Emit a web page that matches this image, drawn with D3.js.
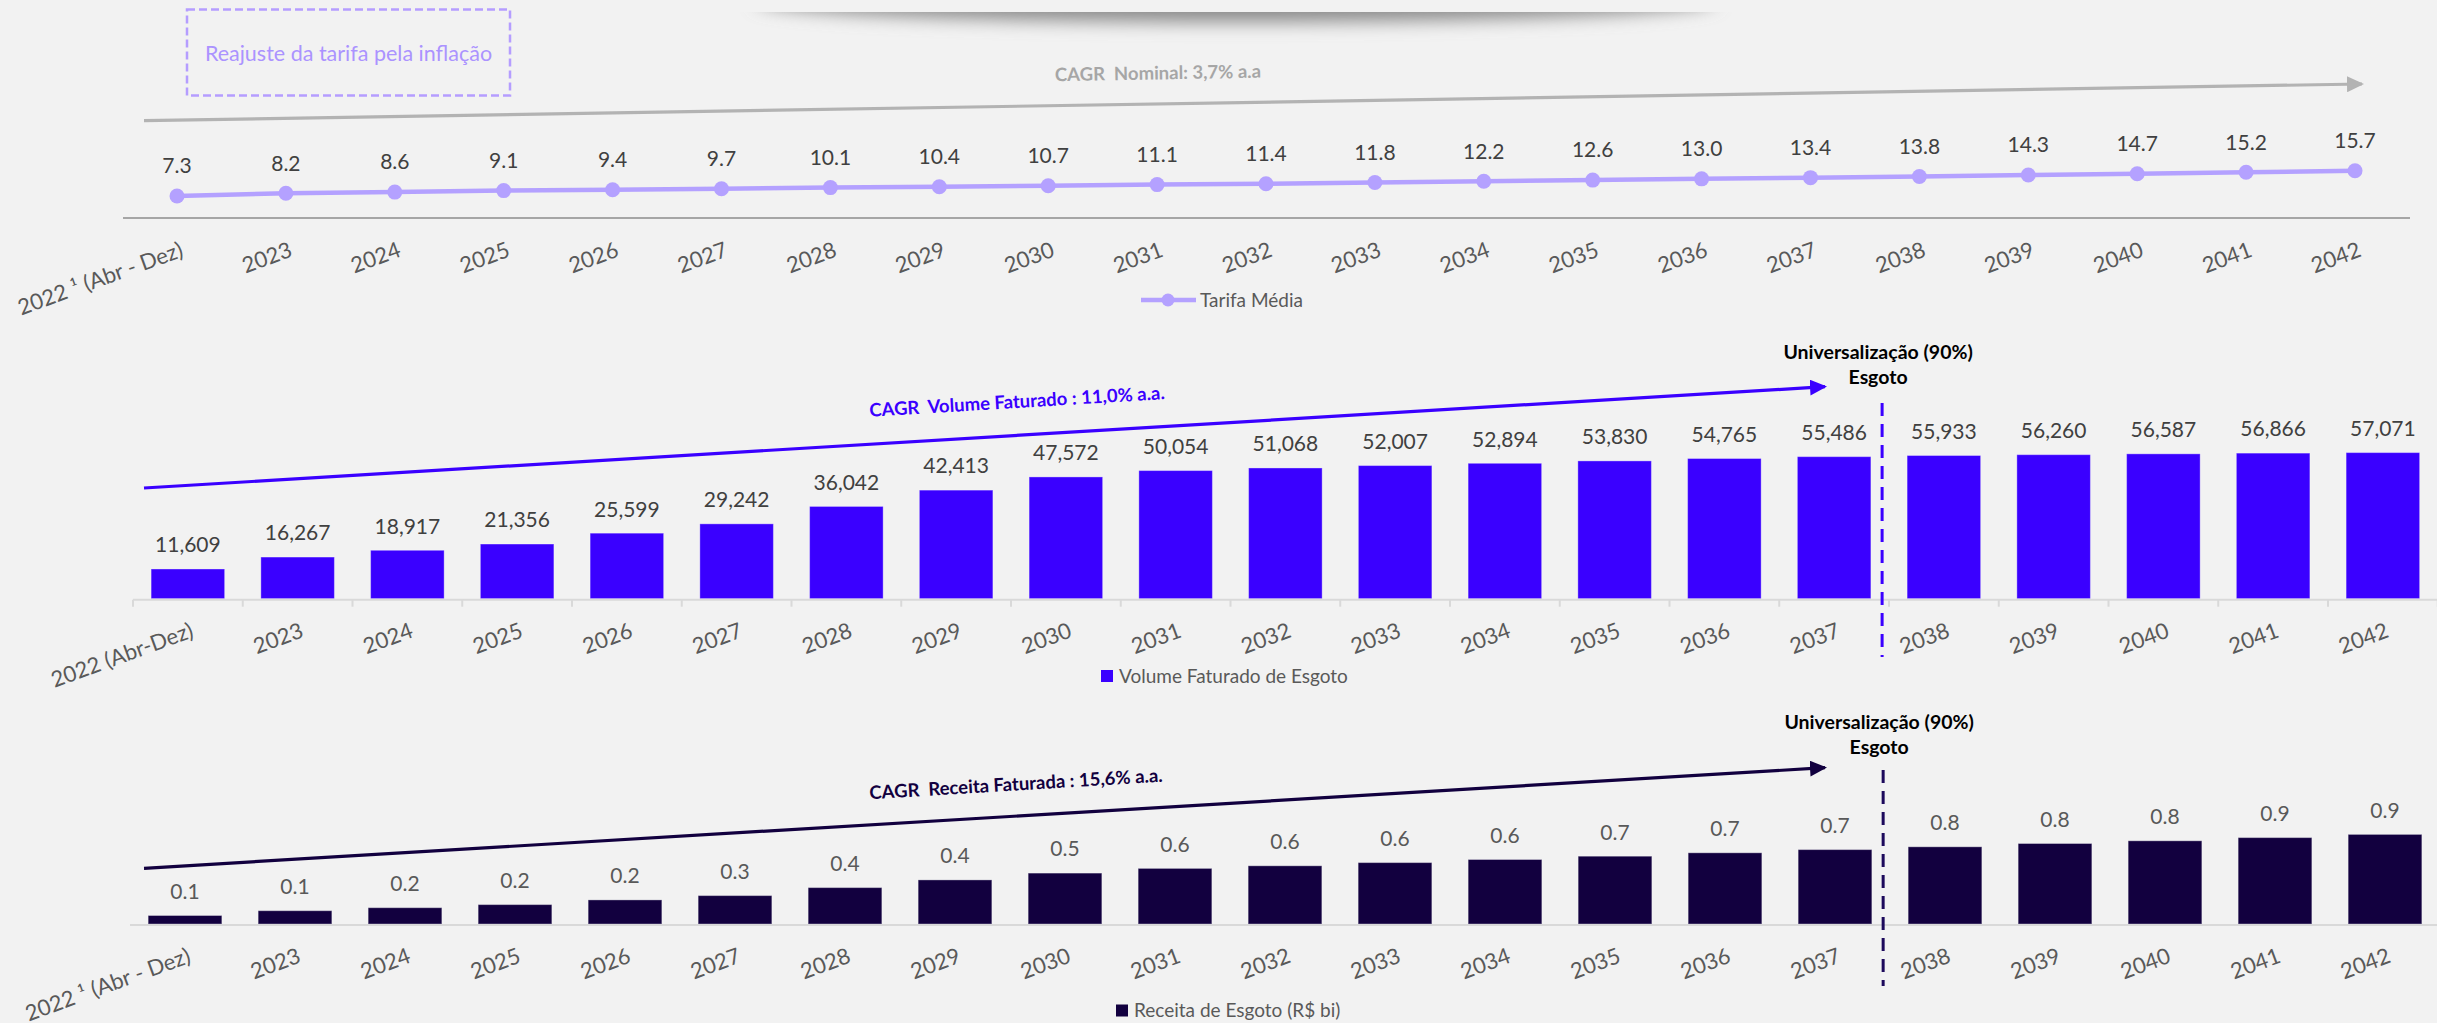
<!DOCTYPE html>
<html>
<head>
<meta charset="utf-8">
<script src="https://cdn.jsdelivr.net/npm/d3@7"></script>
<style>
  html, body { margin: 0; padding: 0; background: #f2f2f2; }
  svg { display: block; font-family: Lato, "Open Sans", sans-serif; }
  .pre { white-space: pre; }
</style>
</head>
<body>
<svg id="chart" width="2437" height="1023"></svg>
<script>
// ---- Data ----
const years = ["2022","2023","2024","2025","2026","2027","2028","2029","2030","2031","2032",
               "2033","2034","2035","2036","2037","2038","2039","2040","2041","2042"];
const tickLabelsFootnote = ["2022 \u00b9 (Abr - Dez)","2023","2024","2025","2026","2027","2028","2029","2030",
               "2031","2032","2033","2034","2035","2036","2037","2038","2039","2040","2041","2042"];
const tickLabelsPlain = ["2022 (Abr-Dez)","2023","2024","2025","2026","2027","2028","2029","2030",
               "2031","2032","2033","2034","2035","2036","2037","2038","2039","2040","2041","2042"];
const tarifaMedia = [7.3, 8.2, 8.6, 9.1, 9.4, 9.7, 10.1, 10.4, 10.7, 11.1, 11.4,
                     11.8, 12.2, 12.6, 13.0, 13.4, 13.8, 14.3, 14.7, 15.2, 15.7];
const volumeFaturado = [11609, 16267, 18917, 21356, 25599, 29242, 36042, 42413, 47572, 50054, 51068,
                        52007, 52894, 53830, 54765, 55486, 55933, 56260, 56587, 56866, 57071];
const receitaEsgoto = [0.085, 0.133, 0.163, 0.194, 0.241, 0.284, 0.364, 0.441, 0.509, 0.556, 0.582,
                       0.614, 0.645, 0.678, 0.712, 0.744, 0.772, 0.805, 0.832, 0.864, 0.896];
const universalYear = "2038";

// ---- Styles ----
const C = {
  bg: "#f2f2f2",
  tarifa: "#b4a1ff",
  volume: "#3a00ff",
  receita: "#12003f",
  grayArrow: "#b3b3b3",
  tick: "#595959",
  value: "#404040",
  axisLight: "#d9d9d9",
  axisDark: "#8c8c8c"
};
const TICK_SIZE = 22;
const VALUE_SIZE = 21;

const svg = d3.select("#chart");
const defs = svg.append("defs");

// arrowhead markers
function arrowMarker(id, color) {
  defs.append("marker")
    .attr("id", id)
    .attr("markerUnits", "userSpaceOnUse")
    .attr("markerWidth", 17).attr("markerHeight", 16)
    .attr("refX", 15).attr("refY", 8)
    .attr("orient", "auto")
    .append("path")
    .attr("d", "M0,0 L17,8 L0,16 Z")
    .attr("fill", color);
}
arrowMarker("arrGray", C.grayArrow);
arrowMarker("arrVol", C.volume);
arrowMarker("arrRec", C.receita);

// soft shadow at the very top
defs.append("filter").attr("id", "softBlur")
  .attr("x", "-20%").attr("y", "-200%").attr("width", "140%").attr("height", "500%")
  .append("feGaussianBlur").attr("stdDeviation", 9);
defs.append("clipPath").attr("id", "shadowClip")
  .append("rect").attr("x", 0).attr("y", 12).attr("width", 2437).attr("height", 60);
svg.append("g").attr("clip-path", "url(#shadowClip)")
  .append("ellipse")
  .attr("cx", 1236).attr("cy", 0).attr("rx", 480).attr("ry", 22)
  .attr("fill", "#8a8a8a")
  .attr("filter", "url(#softBlur)");

// rotated category labels under an axis
function styleTickLabels(g, size) {
  g.select(".domain").remove();
  g.selectAll(".tick line").remove();
  g.selectAll(".tick text")
    .attr("x", 7).attr("y", 38).attr("dy", null)
    .attr("transform", "rotate(-20 7 38)")
    .attr("text-anchor", "end")
    .attr("fill", C.tick)
    .style("font-size", size + "px")
    .style("font-family", "Lato, 'Open Sans', sans-serif");
}

// =========== Panel 1: Tarifa Média (line) ===========
{
  const axisY = 218;
  const x = d3.scalePoint().domain(years).range([177, 2355]);
  const y = d3.scaleLinear().domain([0, 20]).range([axisY, axisY - 60.2]);

  // dashed note box
  svg.append("rect")
    .attr("x", 187).attr("y", 9.5).attr("width", 323).attr("height", 86)
    .attr("fill", "none").attr("stroke", "#b59dff").attr("stroke-width", 2.5)
    .attr("stroke-dasharray", "8 4");
  svg.append("text")
    .attr("x", 348.5).attr("y", 53).attr("dy", "0.35em")
    .attr("text-anchor", "middle").attr("fill", "#ab93ff")
    .style("font-size", "21.5px")
    .text("Reajuste da tarifa pela inflação");

  // CAGR arrow
  svg.append("line")
    .attr("x1", 144).attr("y1", 120.7).attr("x2", 2362).attr("y2", 84)
    .attr("stroke", C.grayArrow).attr("stroke-width", 3.2)
    .attr("marker-end", "url(#arrGray)");
  svg.append("text").attr("class", "pre")
    .attr("x", 1158).attr("y", 73).attr("dy", "0.35em")
    .attr("text-anchor", "middle")
    .attr("transform", "rotate(-1 1158 73)")
    .attr("fill", "#a6a6a6").attr("font-weight", 700)
    .style("font-size", "18.5px")
    .text("CAGR  Nominal: 3,7% a.a");

  // baseline
  svg.append("line")
    .attr("x1", 123).attr("x2", 2410).attr("y1", axisY).attr("y2", axisY)
    .attr("stroke", C.axisDark).attr("stroke-width", 1.4);

  const line = d3.line().x((d, i) => x(years[i])).y(d => y(d));
  svg.append("path").datum(tarifaMedia)
    .attr("d", line).attr("fill", "none")
    .attr("stroke", C.tarifa).attr("stroke-width", 4.5);
  svg.append("g").selectAll("circle").data(tarifaMedia).join("circle")
    .attr("cx", (d, i) => x(years[i])).attr("cy", d => y(d)).attr("r", 7.5)
    .attr("fill", C.tarifa);
  svg.append("g").selectAll("text").data(tarifaMedia).join("text")
    .attr("x", (d, i) => x(years[i])).attr("y", d => y(d) - 30).attr("dy", "0.35em")
    .attr("text-anchor", "middle").attr("fill", C.value)
    .style("font-size", VALUE_SIZE + "px")
    .text(d => d3.format(".1f")(d));

  const ax = d3.axisBottom(x).tickSize(0).tickFormat((d, i) => tickLabelsFootnote[i]);
  svg.append("g").attr("transform", `translate(0,${axisY})`).call(ax)
    .call(g => styleTickLabels(g, TICK_SIZE));

  // legend
  const lg = svg.append("g").attr("transform", "translate(1141,300)");
  lg.append("line").attr("x1", 0).attr("x2", 55).attr("y1", 0).attr("y2", 0)
    .attr("stroke", C.tarifa).attr("stroke-width", 4.5);
  lg.append("circle").attr("cx", 27).attr("cy", 0).attr("r", 6.5).attr("fill", C.tarifa);
  lg.append("text").attr("x", 59).attr("y", 0).attr("dy", "0.35em")
    .attr("fill", C.tick).style("font-size", "19px").text("Tarifa Média");
}

// =========== Bar panels ===========
function barPanel(opts) {
  const { axisY, range, values, yDomain, yPx, color, fmt, labelColor, tickLabels,
          withTicks, arrow, cagrText, cagrPos, dashTop, dashBottom, dashColor, universalY,
          legendText, legendX, legendY, markerId } = opts;
  const x = d3.scaleBand().domain(years).range(range).paddingInner(0.33).paddingOuter(0.165);
  const y = d3.scaleLinear().domain(yDomain).range([axisY, axisY - yPx]);

  // bars
  svg.append("g").selectAll("rect").data(values).join("rect")
    .attr("x", (d, i) => x(years[i])).attr("width", x.bandwidth())
    .attr("y", d => y(d)).attr("height", d => axisY - y(d))
    .attr("fill", color)
    .attr("stroke", "rgba(255,255,255,0.35)").attr("stroke-width", 1);

  // value labels
  svg.append("g").selectAll("text").data(values).join("text")
    .attr("x", (d, i) => x(years[i]) + x.bandwidth() / 2)
    .attr("y", d => y(d) - 24).attr("dy", "0.35em")
    .attr("text-anchor", "middle").attr("fill", labelColor)
    .style("font-size", VALUE_SIZE + "px")
    .text(fmt);

  // axis line and boundary ticks
  svg.append("line")
    .attr("x1", range[0]).attr("x2", range[1]).attr("y1", axisY + 1).attr("y2", axisY + 1)
    .attr("stroke", C.axisLight).attr("stroke-width", 2);
  if (withTicks) {
    svg.append("g").selectAll("line").data(d3.range(years.length + 1)).join("line")
      .attr("x1", i => range[0] + i * x.step()).attr("x2", i => range[0] + i * x.step())
      .attr("y1", axisY + 1).attr("y2", axisY + 8)
      .attr("stroke", C.axisLight).attr("stroke-width", 2);
  }

  const ax = d3.axisBottom(x).tickSize(0).tickFormat((d, i) => tickLabels[i]);
  svg.append("g").attr("transform", `translate(0,${axisY})`).call(ax)
    .call(g => styleTickLabels(g, TICK_SIZE));

  // CAGR arrow + label
  svg.append("line")
    .attr("x1", arrow[0]).attr("y1", arrow[1]).attr("x2", arrow[2]).attr("y2", arrow[3])
    .attr("stroke", color).attr("stroke-width", 3.2)
    .attr("marker-end", `url(#${markerId})`);
  const ang = Math.atan2(arrow[3] - arrow[1], arrow[2] - arrow[0]) * 180 / Math.PI;
  svg.append("text").attr("class", "pre")
    .attr("x", cagrPos[0]).attr("y", cagrPos[1]).attr("dy", "0.35em")
    .attr("text-anchor", "middle")
    .attr("transform", `rotate(${ang} ${cagrPos[0]} ${cagrPos[1]})`)
    .attr("fill", color).attr("font-weight", 700)
    .style("font-size", "18.5px")
    .text(cagrText);

  // universalisation marker
  const dx = x(universalYear) - 25;
  svg.append("line")
    .attr("x1", dx).attr("x2", dx).attr("y1", dashTop).attr("y2", dashBottom)
    .attr("stroke", dashColor).attr("stroke-width", 3)
    .attr("stroke-dasharray", "13 8");
  const ut = svg.append("text").attr("text-anchor", "middle")
    .attr("fill", "#000").attr("font-weight", 700).style("font-size", "19.5px");
  ut.append("tspan").attr("x", dx - 4).attr("y", universalY).attr("dy", "0.35em").text("Universalização (90%)");
  ut.append("tspan").attr("x", dx - 4).attr("y", universalY + 25.5).attr("dy", "0.35em").text("Esgoto");

  // legend
  svg.append("rect").attr("x", legendX).attr("y", legendY - 6).attr("width", 12).attr("height", 12)
    .attr("fill", color);
  svg.append("text").attr("x", legendX + 18).attr("y", legendY).attr("dy", "0.35em")
    .attr("fill", C.tick).style("font-size", "19px").text(legendText);
}

barPanel({
  axisY: 598.7, range: [133, 2437.75], values: volumeFaturado,
  yDomain: [0, 60000], yPx: 153.6, color: C.volume,
  fmt: d3.format(","), labelColor: C.value, tickLabels: tickLabelsPlain, withTicks: true,
  arrow: [144, 488, 1825, 386.7],
  cagrText: "CAGR  Volume Faturado : 11,0% a.a.", cagrPos: [1017, 401.5],
  dashTop: 403, dashBottom: 657, dashColor: C.volume, universalY: 352,
  legendText: "Volume Faturado de Esgoto", legendX: 1101, legendY: 676, markerId: "arrVol"
});

barPanel({
  axisY: 924, range: [130, 2440], values: receitaEsgoto,
  yDomain: [0, 1], yPx: 100, color: C.receita,
  fmt: d3.format(".1f"), labelColor: "#595959", tickLabels: tickLabelsFootnote, withTicks: false,
  arrow: [144, 868.3, 1825, 767.7],
  cagrText: "CAGR  Receita Faturada : 15,6% a.a.", cagrPos: [1016, 784],
  dashTop: 770, dashBottom: 986, dashColor: "#1d0a5c", universalY: 721.7,
  legendText: "Receita de Esgoto (R$ bi)", legendX: 1116, legendY: 1010.5, markerId: "arrRec"
});
</script>
</body>
</html>
